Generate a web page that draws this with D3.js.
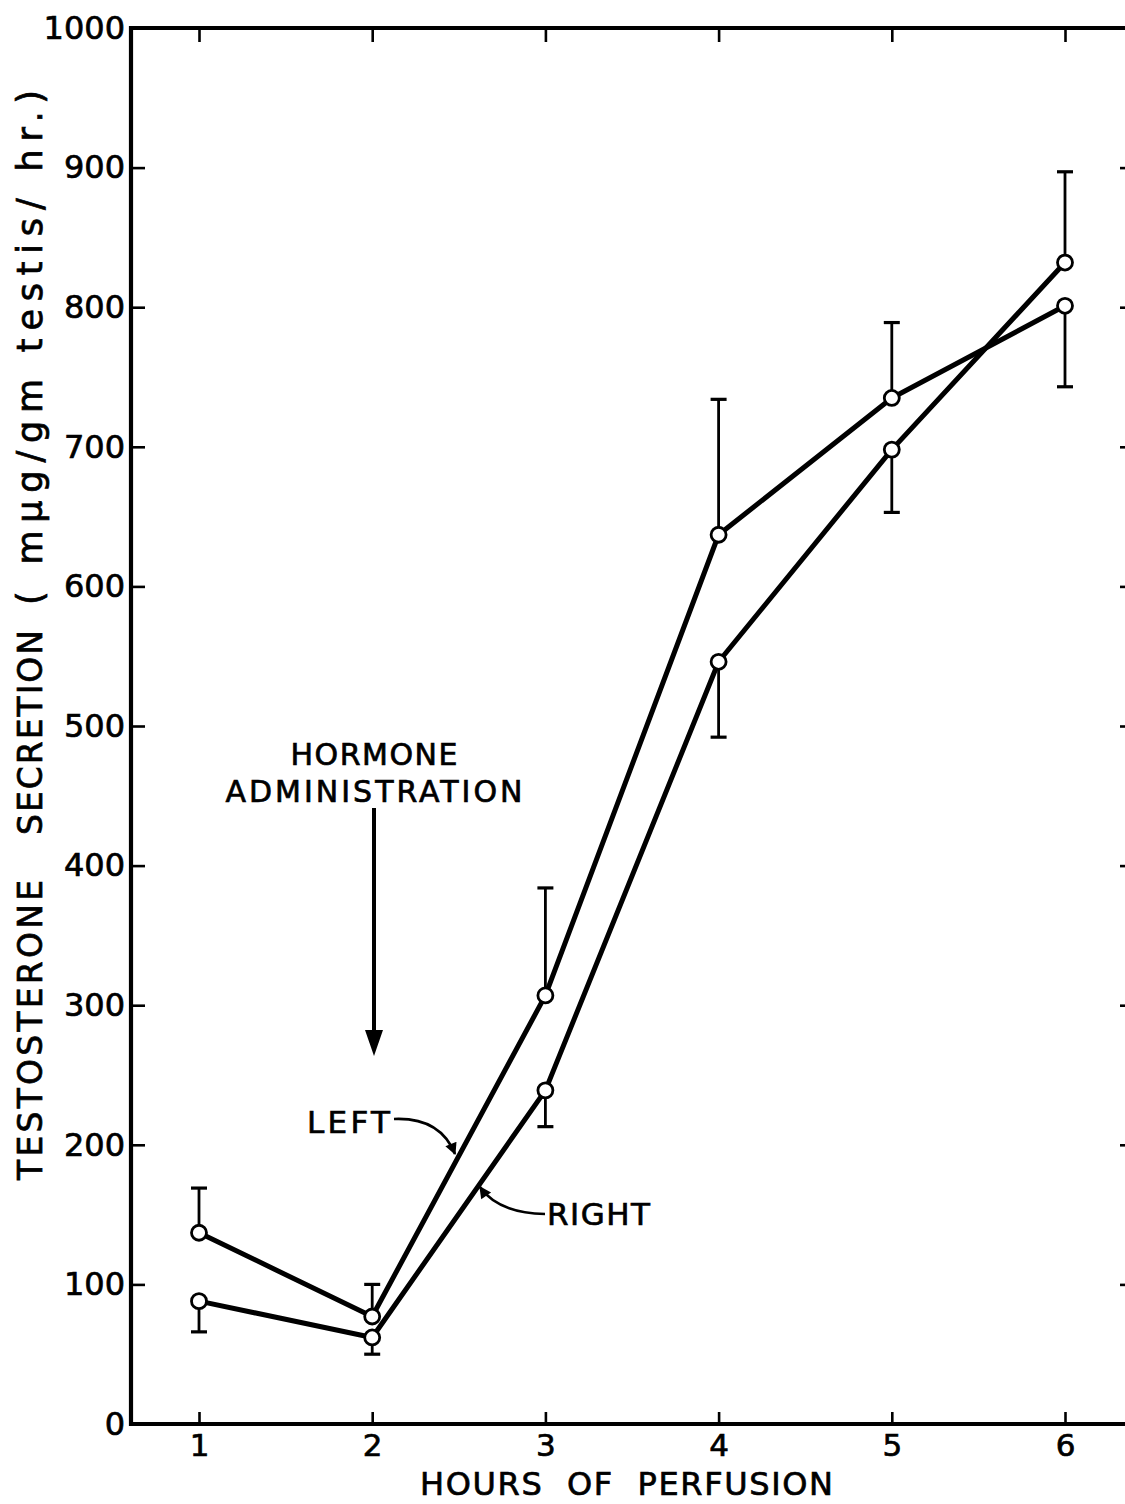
<!DOCTYPE html>
<html>
<head>
<meta charset="utf-8">
<script src="https://cdn.jsdelivr.net/npm/d3@7"></script>
<style>
  html, body { margin: 0; padding: 0; background: #fff; }
  svg { display: block; }
  text { font-family: "DejaVu Sans", "Liberation Sans", sans-serif; fill: #000; stroke: #000; stroke-width: 0.7px; }
</style>
</head>
<body>
<svg id="chart" width="1125" height="1504"></svg>
<script>
// Hours of perfusion (x positions)
const hours = [1, 2, 3, 4, 5, 6];

// Testosterone secretion, mean values (mμg/gm testis/hr.)
const leftMean  = [137, 77, 307, 637, 735, 801];
const rightMean = [88, 62, 239, 546, 698, 832];

// Standard errors and the side on which each bar is drawn (+1 above, -1 below)
const leftErr      = [32, 23, 77, 97, 54, 58];
const leftErrSide  = [1, 1, 1, 1, 1, -1];
const rightErr     = [22, 12, 26, 54, 45, 65];
const rightErrSide = [-1, -1, -1, -1, -1, 1];

// Axis ticks
const yTicks = [0, 100, 200, 300, 400, 500, 600, 700, 800, 900, 1000];
const xTicks = [1, 2, 3, 4, 5, 6];

// Y-axis title, in three lettered pieces
const yTitleParts = ["TESTOSTERONE", "SECRETION", "( mμg/gm testis/ hr.)"];

const svg = d3.select("#chart");

const frame = { left: 131, right: 1134, top: 28, bottom: 1424 };

const x = d3.scaleLinear().domain([1, 6]).range([199, 1065]);
const y = d3.scaleLinear().domain([0, 1000]).range([frame.bottom, frame.top]);

// Arrowhead marker for the annotation leaders
const defs = svg.append("defs");
defs.append("marker")
  .attr("id", "head")
  .attr("viewBox", "0 0 10 10")
  .attr("refX", 9).attr("refY", 5)
  .attr("markerWidth", 17).attr("markerHeight", 12)
  .attr("markerUnits", "userSpaceOnUse")
  .attr("orient", "auto")
  .append("path").attr("d", "M0,0 L10,5 L0,10 Z").attr("fill", "#000");

// ---- Axes (ticks point inward on all four sides) ----
const axisStyle = g => {
  g.select(".domain").remove();
  g.selectAll(".tick line").attr("stroke", "#000").attr("stroke-width", 2.6);
};

svg.append("g")
  .attr("transform", `translate(${frame.left},0)`)
  .call(d3.axisLeft(y).tickValues(yTicks).tickSizeInner(-14).tickSizeOuter(0).tickPadding(6)
        .tickFormat(d3.format("d")))
  .call(axisStyle)
  .call(g => g.selectAll(".tick text").attr("font-size", 32).attr("fill", "#000"))
  .call(g => g.selectAll(".tick line").filter(d => d === 0 || d === 1000).remove());

svg.append("g")
  .attr("transform", `translate(${frame.right},0)`)
  .call(d3.axisRight(y).tickValues(yTicks.filter(d => d > 0 && d < 1000)).tickSizeInner(-14).tickSizeOuter(0).tickFormat(""))
  .call(axisStyle);

svg.append("g")
  .attr("transform", `translate(0,${frame.bottom})`)
  .call(d3.axisBottom(x).tickValues(xTicks).tickSizeInner(-12).tickSizeOuter(0).tickPadding(10)
        .tickFormat(d3.format("d")))
  .call(axisStyle)
  .call(g => g.selectAll(".tick text").attr("font-size", 31).attr("fill", "#000"));

svg.append("g")
  .attr("transform", `translate(0,${frame.top})`)
  .call(d3.axisTop(x).tickValues(xTicks).tickSizeInner(-14).tickSizeOuter(0).tickFormat(""))
  .call(axisStyle);

// Frame
svg.append("path")
  .attr("d", `M${frame.right},${frame.top} H${frame.left} V${frame.bottom} H${frame.right}`)
  .attr("fill", "none").attr("stroke", "#000").attr("stroke-width", 4.2)
  .attr("stroke-linejoin", "miter");

// ---- Axis titles ----
svg.append("text")
  .attr("x", 420).attr("y", 1495)
  .attr("font-size", 32)
  .attr("textLength", 413).attr("lengthAdjust", "spacing")
  .style("white-space", "pre")
  .text("HOURS  OF  PERFUSION");

// offset, length and size of each piece along the rotated baseline
const yTitleLayout = [[0, 300, 33], [345, 205, 33], [575, 515, 35]];
const yTitle = svg.append("g").attr("transform", "translate(42,1180) rotate(-90)");
yTitleParts.forEach((t, i) => {
  yTitle.append("text")
    .attr("x", yTitleLayout[i][0])
    .attr("font-size", yTitleLayout[i][2])
    .attr("textLength", yTitleLayout[i][1]).attr("lengthAdjust", "spacing")
    .style("white-space", "pre")
    .text(t);
});

// ---- Series ----
const series = [
  { name: "LEFT",  mean: leftMean,  err: leftErr,  side: leftErrSide },
  { name: "RIGHT", mean: rightMean, err: rightErr, side: rightErrSide }
];

const line = d3.line().x(d => x(d.h)).y(d => y(d.v));

series.forEach(s => {
  const pts = hours.map((h, i) => ({ h, v: s.mean[i], e: s.err[i], side: s.side[i] }));

  // error bars
  const eb = svg.append("g").attr("stroke", "#000").attr("stroke-width", 2.8);
  pts.forEach(p => {
    const yEnd = y(p.v + p.side * p.e);
    eb.append("line").attr("x1", x(p.h)).attr("x2", x(p.h)).attr("y1", y(p.v)).attr("y2", yEnd);
    eb.append("line").attr("x1", x(p.h) - 8).attr("x2", x(p.h) + 8).attr("y1", yEnd).attr("y2", yEnd)
      .attr("stroke-width", 3.2);
  });

  svg.append("path").datum(pts)
    .attr("d", line)
    .attr("fill", "none").attr("stroke", "#000").attr("stroke-width", 5)
    .attr("stroke-linejoin", "round");

  s.pts = pts;
});

series.forEach(s => {
  svg.append("g").selectAll("circle").data(s.pts).join("circle")
    .attr("cx", d => x(d.h)).attr("cy", d => y(d.v)).attr("r", 7.5)
    .attr("fill", "#fff").attr("stroke", "#000").attr("stroke-width", 2.8);
});

// ---- Annotations ----
svg.append("text").attr("x", 374).attr("y", 765).attr("text-anchor", "middle")
  .attr("font-size", 30).attr("textLength", 167).attr("lengthAdjust", "spacing")
  .text("HORMONE");
svg.append("text").attr("x", 374).attr("y", 802).attr("text-anchor", "middle")
  .attr("font-size", 30).attr("textLength", 297).attr("lengthAdjust", "spacing")
  .text("ADMINISTRATION");

svg.append("line").attr("x1", 374).attr("x2", 374).attr("y1", 808).attr("y2", 1032)
  .attr("stroke", "#000").attr("stroke-width", 4);
svg.append("path").attr("d", "M365,1030 L383,1030 L374,1056 Z").attr("fill", "#000");

svg.append("text").attr("x", 307).attr("y", 1133)
  .attr("font-size", 31).attr("textLength", 83).attr("lengthAdjust", "spacing")
  .text("LEFT");
svg.append("path").attr("d", "M394,1119 Q440,1117 455,1154")
  .attr("fill", "none").attr("stroke", "#000").attr("stroke-width", 2.6)
  .attr("marker-end", "url(#head)");

svg.append("text").attr("x", 547).attr("y", 1225)
  .attr("font-size", 31).attr("textLength", 103).attr("lengthAdjust", "spacing")
  .text("RIGHT");
svg.append("path").attr("d", "M545,1214 Q498,1213 480,1187")
  .attr("fill", "none").attr("stroke", "#000").attr("stroke-width", 2.6)
  .attr("marker-end", "url(#head)");
</script>
</body>
</html>
